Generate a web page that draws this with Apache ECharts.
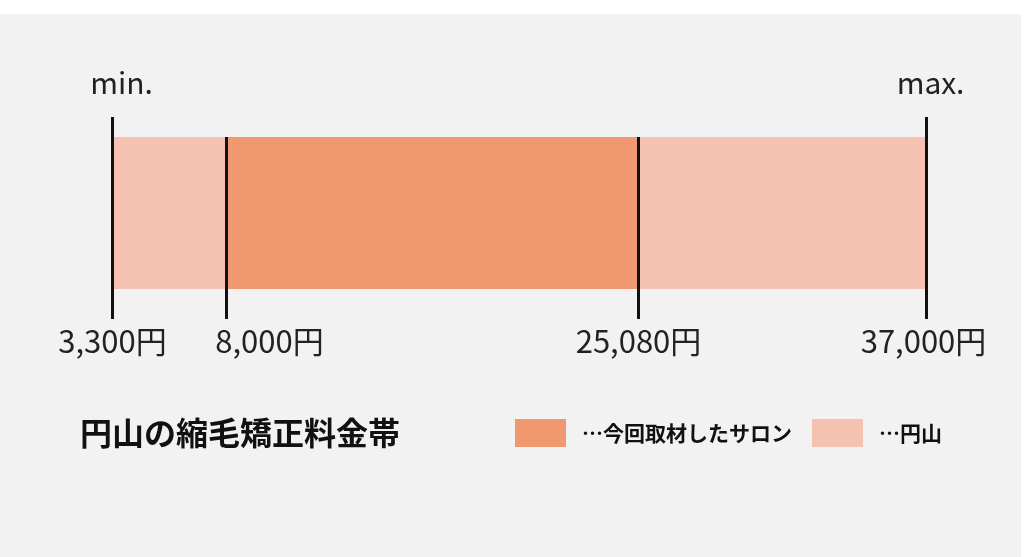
<!DOCTYPE html>
<html><head><meta charset="utf-8">
<script src="https://cdn.jsdelivr.net/npm/echarts@6/dist/echarts.min.js"></script>
<style>html,body{margin:0;padding:0;background:#fff;}#c{width:1024px;height:557px;}</style>
</head><body><div id="c"></div>
<script>
// ---- data ----
const rangeStarts = [3300, 8000, 25080];
const rangeEnds = [8000, 25080, 37000];
const rangeGroups = ['円山', '今回取材したサロン', '円山'];
const seriesNames = ['今回取材したサロン', '円山'];
const markerValues = [3300, 8000, 25080, 37000];
const markerLabels = ['3,300円', '8,000円', '25,080円', '37,000円'];
const capLabels = ['min.', '', '', 'max.'];
const titleText = '円山の縮毛矯正料金帯';

// ---- style ----
const colors = { '今回取材したサロン': '#F09870', '円山': '#F5C1B1' };
const labelShift = [0, 43, 0, -3];
const capShift = [9, 0, 0, 4];
const FONT = '"Noto Sans CJK JP", "Noto Sans", sans-serif';

const chart = echarts.init(document.getElementById('c'));

const barSeries = seriesNames.map(name => ({
  name: name,
  type: 'custom',
  itemStyle: { color: colors[name] },
  encode: { x: [0, 1] },
  data: rangeStarts.map((s, i) => [s, rangeEnds[i], rangeGroups[i]]).filter(d => d[2] === name),
  renderItem: function (params, api) {
    const p0 = api.coord([api.value(0), 1]);
    const p1 = api.coord([api.value(1), 0]);
    return { type: 'rect', shape: { x: p0[0], y: p0[1], width: p1[0] - p0[0], height: p1[1] - p0[1] },
      style: { fill: colors[name] } };
  },
  z: 1
}));

const markerSeries = {
  type: 'custom',
  name: 'markers',
  encode: { x: 0 },
  data: markerValues.map((v, i) => [v, i]),
  renderItem: function (params, api) {
    const i = api.value(1);
    const top = api.coord([api.value(0), 1]);
    const bot = api.coord([api.value(0), 0]);
    const isEnd = capLabels[i] !== '';
    const x = Math.round(top[0]) + 0.5;
    const children = [
      { type: 'line', shape: { x1: x, y1: top[1] - (isEnd ? 20 : 0), x2: x, y2: bot[1] + 30 },
        style: { stroke: '#111', lineWidth: 3 } },
      { type: 'text', x: x + labelShift[i], y: bot[1] + 52,
        style: { text: markerLabels[i], fill: '#222', font: '31px ' + FONT, textAlign: 'center', textVerticalAlign: 'middle' } }
    ];
    if (isEnd) {
      children.push({ type: 'text', x: x + capShift[i], y: top[1] - 54,
        style: { text: capLabels[i], fill: '#222', font: '30px ' + FONT, textAlign: 'center', textVerticalAlign: 'middle' } });
    }
    return { type: 'group', children: children };
  },
  z: 3
};

chart.setOption({
  backgroundColor: '#ffffff',
  animation: false,
  graphic: [
    { type: 'rect', z: -10, shape: { x: 0, y: 14, width: 1021, height: 543 }, style: { fill: '#f2f2f2' } },
    { type: 'text', left: 80, top: 417, style: { text: titleText, fill: '#111', font: 'bold 32px ' + FONT } }
  ],
  grid: { left: 112, right: 98, top: 137, bottom: 268 },
  xAxis: { type: 'value', min: 3300, max: 37000, show: false },
  yAxis: { type: 'value', min: 0, max: 1, show: false },
  legend: {
    left: 510, top: 414,
    data: seriesNames.map(n => ({ name: n, icon: 'rect' })),
    itemWidth: 51, itemHeight: 28, itemGap: 20,
    selectedMode: false,
    formatter: name => '…' + name,
    textStyle: { fontFamily: FONT, fontSize: 21, fontWeight: 'bold', color: '#111', padding: [0, 0, 0, 11] }
  },
  series: barSeries.concat([markerSeries])
});
</script></body></html>
